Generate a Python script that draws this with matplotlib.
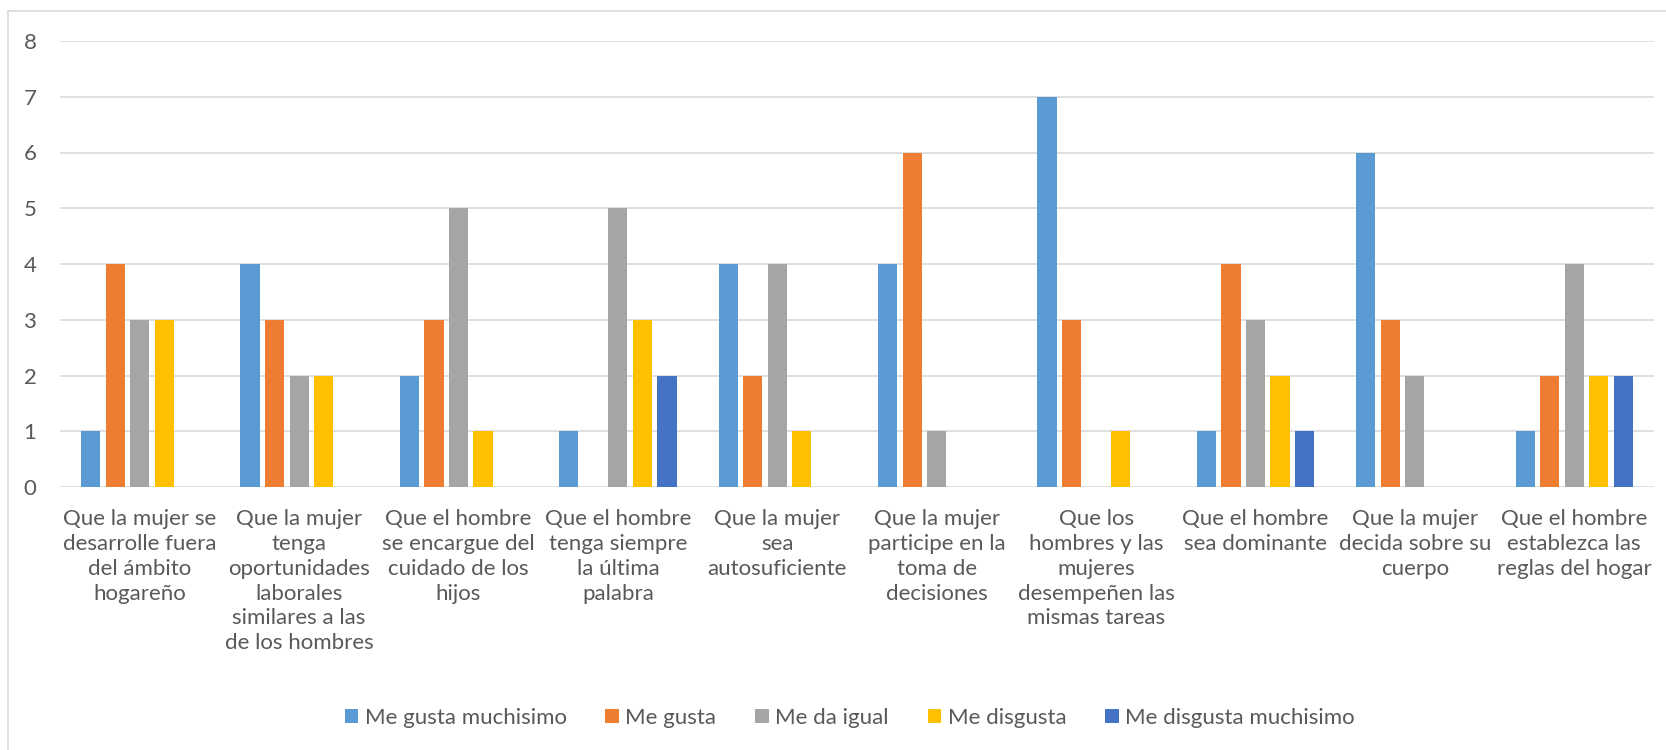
import numpy as np
import matplotlib.pyplot as plt
from matplotlib.lines import Line2D

categories = [
    "Que la mujer se\ndesarrolle fuera\ndel ámbito\nhogareño",
    "Que la mujer\ntenga\noportunidades\nlaborales\nsimilares a las\nde los hombres",
    "Que el hombre\nse encargue del\ncuidado de los\nhijos",
    "Que el hombre\ntenga siempre\nla última\npalabra",
    "Que la mujer\nsea\nautosuficiente",
    "Que la mujer\nparticipe en la\ntoma de\ndecisiones",
    "Que los\nhombres y las\nmujeres\ndesempeñen las\nmismas tareas",
    "Que el hombre\nsea dominante",
    "Que la mujer\ndecida sobre su\ncuerpo",
    "Que el hombre\nestablezca las\nreglas del hogar",
]

series_names = ["Me gusta muchisimo", "Me gusta", "Me da igual",
                "Me disgusta", "Me disgusta muchisimo"]

me_gusta_muchisimo = [1, 4, 2, 1, 4, 4, 7, 1, 6, 1]
me_gusta = [4, 3, 3, 0, 2, 6, 3, 4, 3, 2]
me_da_igual = [3, 2, 5, 5, 4, 1, 0, 3, 2, 4]
me_disgusta = [3, 2, 1, 3, 1, 0, 1, 2, 0, 2]
me_disgusta_muchisimo = [0, 0, 0, 2, 0, 0, 0, 1, 0, 2]

series = [me_gusta_muchisimo, me_gusta, me_da_igual, me_disgusta,
          me_disgusta_muchisimo]
colors = ["#5B9BD5", "#ED7D31", "#A5A5A5", "#FFC000", "#4472C4"]

plt.rcParams['font.family'] = ['Lato', 'DejaVu Sans']
text_color = "#595959"
fs = 16

fig = plt.figure(figsize=(16.66, 7.5), dpi=100)
ax = fig.add_axes([60 / 1666, 1 - 487 / 750, (1654 - 60) / 1666, (487 - 41) / 750])

x = np.arange(len(categories))
step = 0.154
width = 0.12
for i, (vals, name, c) in enumerate(zip(series, series_names, colors)):
    ax.bar(x + (i - 2) * step, vals, width=width, color=c, label=name, zorder=3)

ax.set_xlim(-0.5, len(categories) - 0.5)
ax.set_ylim(0, 8)
ax.set_yticks(range(0, 9))
ax.set_xticks(x)
ax.set_xticklabels(categories, fontsize=fs, color=text_color, linespacing=1.3)
ax.tick_params(axis='y', labelsize=fs, labelcolor=text_color, length=0, pad=17)
ax.tick_params(axis='x', length=0, pad=16)
ax.grid(axis='y', color='#D9D9D9', linewidth=1.2, zorder=0)
for s in ax.spines.values():
    s.set_visible(False)

# outer chart border (left and top edges visible)
fig.add_artist(Line2D([8 / 1666, 8 / 1666], [0, 1 - 11 / 750], color='#D9D9D9', lw=1.2))
fig.add_artist(Line2D([8 / 1666, 1], [1 - 11 / 750, 1 - 11 / 750], color='#D9D9D9', lw=1.2))

handles, labels = ax.get_legend_handles_labels()
fig.legend(handles, labels, loc='center', bbox_to_anchor=(0.51, 1 - 718 / 750),
           ncol=5, frameon=False, fontsize=fs, labelcolor=text_color,
           handlelength=0.6, handleheight=0.6, handletextpad=0.3,
           columnspacing=1.75)

fig.savefig("out.png", dpi=100, facecolor='white')
